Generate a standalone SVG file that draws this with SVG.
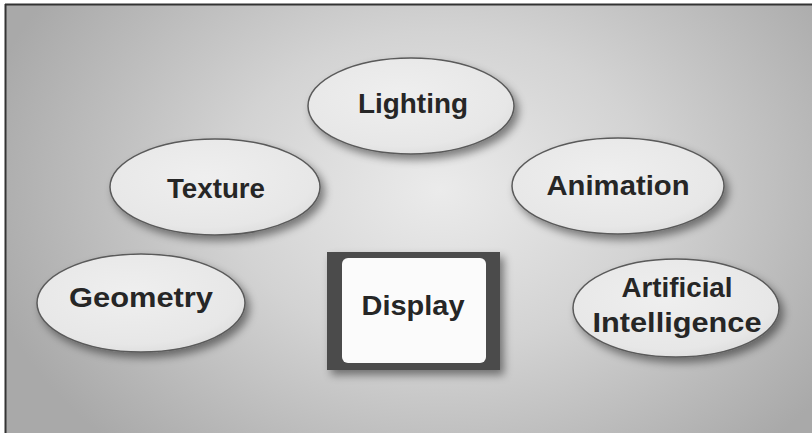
<svg xmlns="http://www.w3.org/2000/svg" width="812" height="433" viewBox="0 0 812 433">
  <defs>
    <radialGradient id="bg" gradientUnits="userSpaceOnUse" cx="440" cy="190" r="470" gradientTransform="translate(440 190) scale(1 0.75) translate(-440 -190)">
      <stop offset="0" stop-color="#ebebeb"/>
      <stop offset="0.45" stop-color="#d3d3d3"/>
      <stop offset="1" stop-color="#a9a9a9"/>
    </radialGradient>
    <radialGradient id="ovalFill" cx="0.45" cy="0.4" r="0.65">
      <stop offset="0" stop-color="#efefef"/>
      <stop offset="0.8" stop-color="#e7e7e7"/>
      <stop offset="1" stop-color="#dcdcdc"/>
    </radialGradient>
    <filter id="shadow" x="-20%" y="-20%" width="150%" height="160%">
      <feDropShadow dx="4" dy="5" stdDeviation="4" flood-color="#000" flood-opacity="0.45"/>
    </filter>
  </defs>
  <style>
    .oval { fill: url(#ovalFill); stroke: #5a5a5a; stroke-width: 1.5; filter: url(#shadow); }
    .label { font-family: "Liberation Sans", Arial, sans-serif; font-weight: bold; font-size: 27px; fill: #262626; text-anchor: middle; }
  </style>

  <!-- page and frame -->
  <rect x="0" y="0" width="812" height="433" fill="#ffffff"/>
  <rect x="6" y="5" width="806" height="428" fill="url(#bg)"/>
  <line x1="5.5" y1="4" x2="5.5" y2="433" stroke="#333" stroke-width="2"/>
  <line x1="5" y1="4.5" x2="812" y2="4.5" stroke="#333" stroke-width="2"/>

  <g id="lighting">
    <ellipse class="oval" cx="411" cy="106" rx="103" ry="48"/>
    <text class="label" x="413" y="113" textLength="110" lengthAdjust="spacingAndGlyphs">Lighting</text>
  </g>

  <g id="texture">
    <ellipse class="oval" cx="215" cy="187" rx="105" ry="48"/>
    <text class="label" x="216" y="198" textLength="98" lengthAdjust="spacingAndGlyphs">Texture</text>
  </g>

  <g id="animation">
    <ellipse class="oval" cx="618" cy="186" rx="106" ry="48"/>
    <text class="label" x="618" y="195" textLength="143" lengthAdjust="spacingAndGlyphs">Animation</text>
  </g>

  <g id="geometry">
    <ellipse class="oval" cx="141" cy="303" rx="104" ry="49"/>
    <text class="label" x="141" y="307" textLength="144" lengthAdjust="spacingAndGlyphs">Geometry</text>
  </g>

  <g id="ai">
    <ellipse class="oval" cx="676" cy="308" rx="103" ry="49"/>
    <text class="label" x="677" y="297" textLength="111" lengthAdjust="spacingAndGlyphs">Artificial</text>
    <text class="label" x="677" y="332" textLength="169" lengthAdjust="spacingAndGlyphs">Intelligence</text>
  </g>

  <g id="display">
    <rect x="327" y="252" width="173" height="118" fill="#4b4b4b" filter="url(#shadow)"/>
    <rect x="342" y="258" width="144" height="105" rx="6" fill="#fbfbfb"/>
    <text class="label" x="413" y="315" textLength="103" lengthAdjust="spacingAndGlyphs">Display</text>
  </g>
</svg>
